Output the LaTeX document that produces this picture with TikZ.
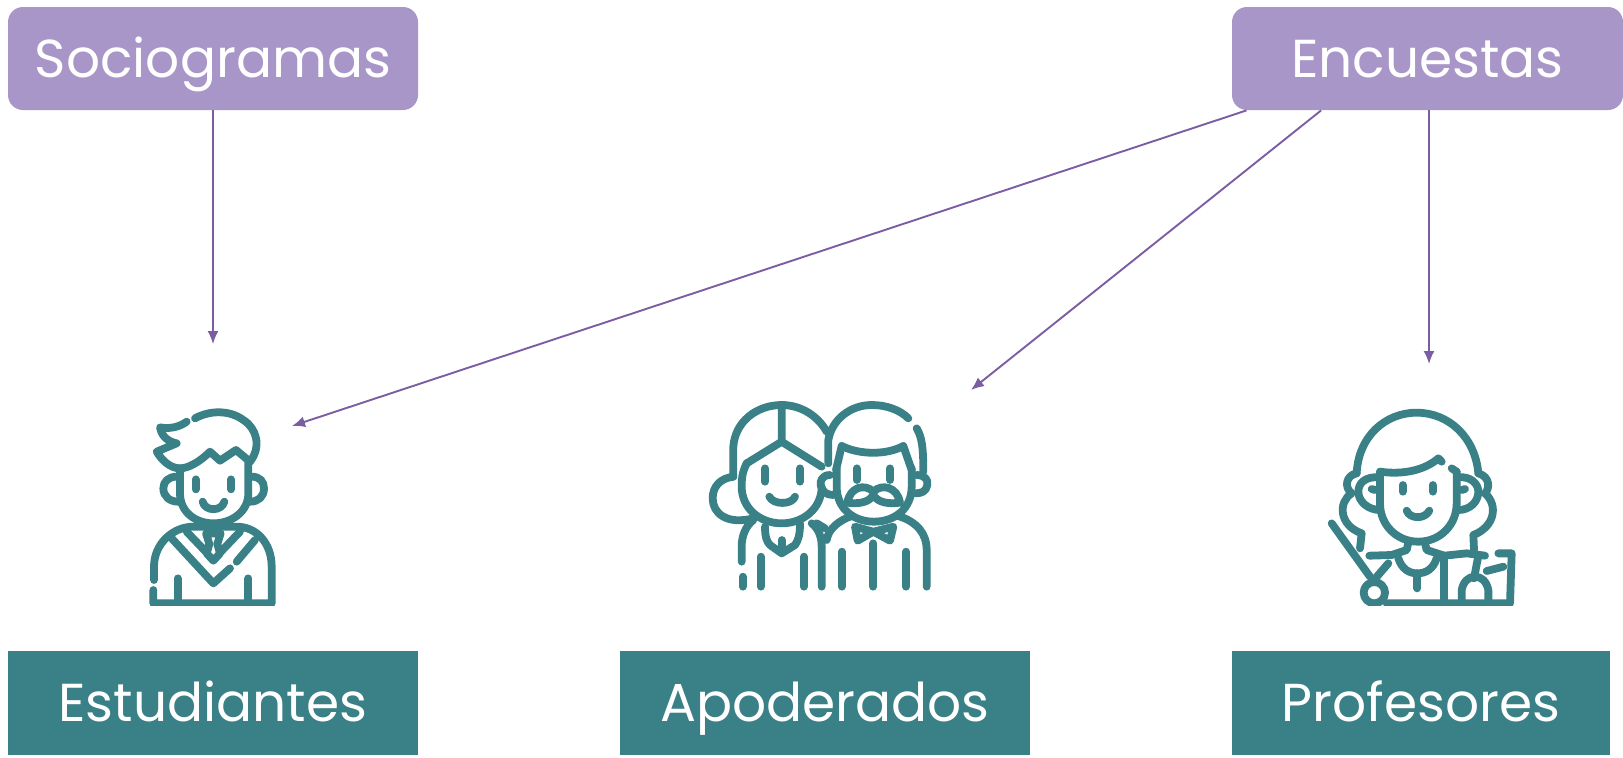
\documentclass[tikz,border=0pt]{standalone}
\usepackage{fontspec}
\setmainfont{Poppins}
\usetikzlibrary{arrows.meta}
\definecolor{lav}{HTML}{A996C8}
\definecolor{teal1}{HTML}{3A8087}
\definecolor{arr}{HTML}{7B5DA3}
\tikzset{
 lavbox/.style={fill=lav,rounded corners=7.5pt,inner sep=0pt,text=white,font=\fontsize{26.7}{30}\selectfont,minimum height=51.5pt,text height=19pt,text depth=0pt},
 tealbox/.style={fill=teal1,inner sep=0pt,text=white,font=\fontsize{26.7}{30}\selectfont,minimum height=52pt,minimum width=205pt,text height=18pt,text depth=0pt},
 conn/.style={draw=arr,line width=0.95pt,-{Latex[length=6.5pt,width=5.5pt]}},
 ln/.style={draw=teal1,line width=3.9pt,line cap=round,line join=round}
}
\begin{document}
\begin{tikzpicture}[x=0.5pt,y=-0.5pt]
\useasboundingbox (0,0) rectangle (1623,757);
\node[lavbox,minimum width=205pt] (soc) at (213,58.5) {Sociogramas};
\node[lavbox,minimum width=195.5pt] (enc) at (1427.5,58.5) {Encuestas};
\node[tealbox] (est) at (213,703) {Estudiantes};
\node[tealbox] (apo) at (825,703) {Apoderados};
\node[tealbox,minimum width=189pt] (pro) at (1421,703) {Profesores};
\coordinate (tEst) at (213,344);
\coordinate (tEst2) at (292,426);
\coordinate (tApo) at (971,390);
\coordinate (tPro) at (1429,364);
\draw[conn] (soc.south) -- (tEst);
\draw[conn] (enc.196) -- (tEst2);
\draw[conn] (enc.206.8) -- (tApo);
\draw[conn] (enc.south -| tPro) -- (tPro);
% student
\begin{scope}[shift={(130,390)},x=0.16667pt,y=-0.16667pt]
\clip (0,0) rectangle (510,646);
\draw[ln] (195,85) .. controls (240,60) and (300,60) .. (340,90) .. controls (380,115) and (395,170) .. (360,215);
\draw[ln] (360,215) -- (318,180) -- (270,212) -- (240,185) .. controls (210,215) and (175,235) .. (150,235) .. controls (120,235) and (95,210) .. (80,185) -- (140,160) .. controls (115,155) and (95,140) .. (90,112) .. controls (120,118) and (150,110) .. (170,95);
\draw[ln] (150,235) -- (150,310) .. controls (150,365) and (195,400) .. (250,400) .. controls (305,400) and (355,365) .. (355,310) -- (355,215);
\draw[ln] (140,260) .. controls (115,260) and (100,275) .. (100,295) .. controls (100,320) and (120,335) .. (145,335);
\draw[ln] (365,260) .. controls (390,260) and (402,275) .. (402,295) .. controls (402,320) and (385,335) .. (360,335);
\draw[ln] (197,268) -- (197,298) (303,268) -- (303,298);
\draw[ln] (218,335) .. controls (225,365) and (275,365) .. (283,335);
\draw[ln] (72,570) -- (72,530) .. controls (72,460) and (130,410) .. (190,410) -- (320,410) .. controls (380,410) and (425,460) .. (425,530) -- (425,640) -- (70,640) -- (70,600);
\draw[ln] (125,445) -- (250,580) -- (300,535) (320,515) -- (375,450);
\draw[ln] (170,425) -- (232,490) (330,425) -- (268,490);
\draw[ln] (228,430) -- (272,430) -- (262,462) -- (270,490) -- (250,512) -- (230,490) -- (238,462) -- cycle;
\draw[ln] (143,565) -- (143,635) (355,565) -- (355,635);
\end{scope}
% parents
\begin{scope}[shift={(690,380)},x=0.16667pt,y=-0.16667pt]
\draw[ln] (130,290) -- (130,200) .. controls (135,125) and (200,75) .. (275,75) .. controls (335,75) and (385,110) .. (410,155);
\draw[ln] (275,75) -- (275,185) -- (170,250) (275,185) -- (395,260);
\draw[ln] (170,250) .. controls (155,280) and (155,300) .. (155,320) .. controls (155,385) and (210,430) .. (275,430) .. controls (340,430) and (395,385) .. (395,320);
\draw[ln] (130,290) .. controls (90,295) and (68,320) .. (68,355) .. controls (68,400) and (110,435) .. (190,415);
\draw[ln] (225,265) -- (225,305) (330,265) -- (330,305);
\draw[ln] (238,350) .. controls (250,375) and (305,375) .. (315,350);
\draw[ln] (225,440) .. controls (225,470) and (230,485) .. (240,495) -- (275,520) -- (315,495) .. controls (325,480) and (330,465) .. (330,430);
\draw[ln] (275,480) -- (275,500);
\draw[ln] (190,420) .. controls (165,440) and (155,470) .. (155,500) -- (155,545);
\draw[ln] (158,590) -- (158,620) (212,530) -- (212,620) (342,530) -- (342,620) (455,515) -- (455,620);
\draw[ln] (395,620) -- (395,500) .. controls (395,470) and (385,445) .. (365,430);
\draw[ln] (415,250) -- (415,180) .. controls (425,120) and (480,75) .. (545,75) .. controls (590,75) and (630,90) .. (655,115);
\draw[ln] (680,145) .. controls (695,170) and (700,200) .. (700,275);
\draw[ln] (455,198) .. controls (510,225) and (590,225) .. (640,198);
\draw[ln] (455,198) -- (438,270) (640,198) -- (665,270);
\draw[ln] (440,265) -- (440,320) .. controls (440,385) and (490,425) .. (552,425) .. controls (615,425) and (665,385) .. (665,320) -- (665,265);
\draw[ln] (420,285) .. controls (395,285) and (390,305) .. (392,315) .. controls (395,335) and (410,345) .. (430,345);
\draw[ln] (680,285) .. controls (705,285) and (715,300) .. (712,315) .. controls (708,335) and (695,340) .. (675,340);
\draw[ln] (500,265) -- (500,300) (600,265) -- (600,300);
\draw[ln] (550,335) .. controls (525,310) and (480,320) .. (472,368) .. controls (500,372) and (535,370) .. (550,345) .. controls (565,370) and (600,372) .. (630,368) .. controls (622,320) and (575,310) .. (550,335);
\draw[ln] (410,480) .. controls (415,445) and (450,420) .. (485,408);
\draw[ln] (625,408) .. controls (680,425) and (710,460) .. (710,510) -- (710,620);
\draw[ln] (495,440) -- (503,482) -- (550,455) -- (600,482) -- (610,440) -- (550,455) -- cycle;
\draw[ln] (550,490) -- (550,620) (648,515) -- (648,620);
\draw[ln] (380,430) -- (405,445);
\end{scope}
% teacher
\begin{scope}[shift={(1310,390)},x=0.16667pt,y=-0.16667pt]
\clip (0,0) rectangle (630,646);
\draw[ln] (140,250) .. controls (145,140) and (225,68) .. (320,68) .. controls (415,68) and (495,140) .. (505,250);
\draw[ln] (140,250) .. controls (110,255) and (100,290) .. (125,310) .. controls (85,335) and (85,405) .. (155,430) -- (150,475);
\draw[ln] (505,250) .. controls (540,260) and (540,295) .. (525,310) .. controls (565,345) and (555,410) .. (490,435) -- (492,480);
\draw[ln] (210,245) .. controls (280,255) and (345,240) .. (385,205) -- (395,215);
\draw[ln] (425,235) -- (440,245);
\draw[ln] (210,245) -- (210,340) .. controls (210,405) and (260,455) .. (325,455) .. controls (390,455) and (440,405) .. (440,340) -- (440,245);
\draw[ln] (210,262) .. controls (165,258) and (145,280) .. (145,305) .. controls (145,335) and (175,360) .. (210,360);
\draw[ln] (445,262) .. controls (480,258) and (505,280) .. (505,305) .. controls (505,335) and (480,360) .. (445,360);
\draw[ln] (185,297) -- (195,300) (465,297) -- (455,300);
\draw[ln] (278,285) -- (278,305) (368,285) -- (368,305);
\draw[ln] (290,362) .. controls (300,388) and (345,388) .. (358,362);
\draw[ln] (295,458) -- (290,480) -- (245,495) -- (178,497);
\draw[ln] (345,460) -- (350,480) -- (403,497) -- (470,490) -- (525,497);
\draw[ln] (265,505) .. controls (275,535) and (295,550) .. (322,550) .. controls (350,550) and (370,535) .. (380,505);
\draw[ln] (322,550) -- (322,595);
\draw[ln] (65,400) -- (180,560);
\draw[ln] (193,608) circle [radius=32];
\draw[ln] (235,520) -- (190,572);
\draw[ln] (230,640) -- (600,640) -- (605,490) -- (565,490);
\draw[ln] (403,497) -- (403,640);
\draw[ln] (455,635) -- (455,600) .. controls (460,575) and (475,560) .. (495,560) .. controls (515,560) and (530,575) .. (535,600) -- (535,635);
\draw[ln] (505,497) -- (492,565);
\draw[ln] (530,543) -- (580,530);
\end{scope}
\end{tikzpicture}
\end{document}
